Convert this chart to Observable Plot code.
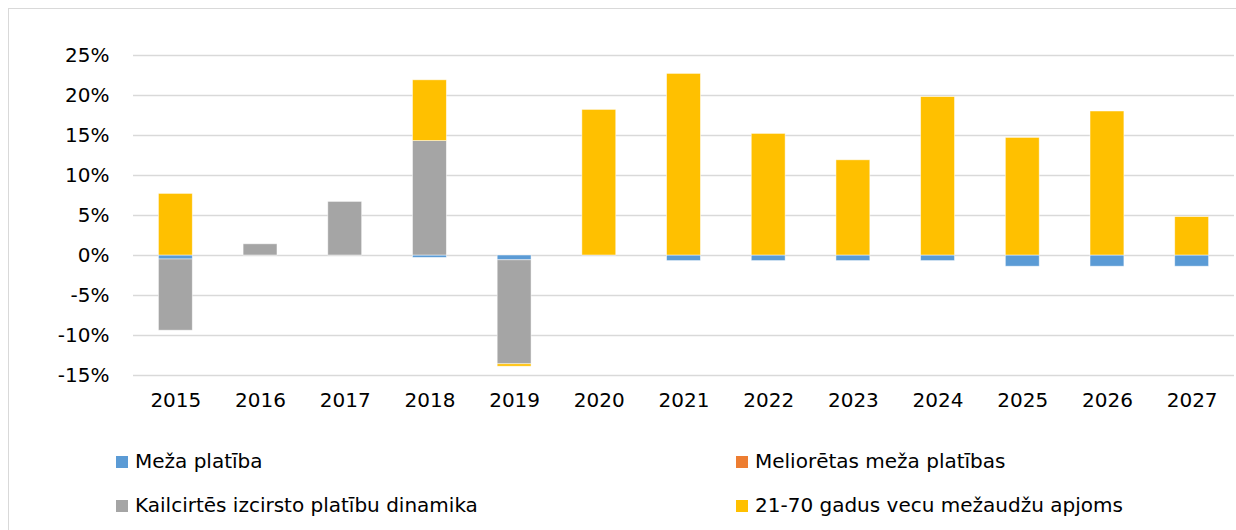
<!DOCTYPE html>
<html>
<head>
<meta charset="utf-8">
<script src="https://cdn.jsdelivr.net/npm/d3@7"></script>
<script src="https://cdn.jsdelivr.net/npm/@observablehq/plot@0.6"></script>
<style>
  html, body { margin: 0; padding: 0; background: #fff; overflow: hidden; }
  #wrap { position: relative; width: 1236px; height: 530px; font-family: "DejaVu Sans", sans-serif; }
  #frame { position: absolute; left: 8px; top: 8px; width: 1300px; height: 600px; border: 1px solid #d9d9d9; box-sizing: border-box; }
  #chart { position: absolute; left: 0; top: 0; }
  .leg { position: absolute; font-size: 20px; color: #000; white-space: nowrap; line-height: 24px; }
  .leg span.sw { display: inline-block; width: 12px; height: 12px; margin-right: 7px; vertical-align: 0px; }
</style>
</head>
<body>
<div id="wrap">
  <div id="frame"></div>
  <div id="chart"></div>
  <div id="legend"></div>
</div>
<script>
const years = ["2015","2016","2017","2018","2019","2020","2021","2022","2023","2024","2025","2026","2027"];
const seriesNames = ["Meža platība", "Meliorētas meža platības", "Kailcirtēs izcirsto platību dinamika", "21-70 gadus vecu mežaudžu apjoms"];
const seriesColors = ["#5B9BD5", "#ED7D31", "#A5A5A5", "#FFC000"];
const mezaPlatiba      = [-0.5, 0, 0, -0.3, -0.6, 0, -0.7, -0.7, -0.7, -0.7, -1.4, -1.4, -1.4];
const melioretas       = [0, 0, 0, 0, 0, 0, 0, 0, 0, 0, 0, 0, 0];
const kailcirtes       = [-8.9, 1.4, 6.7, 14.3, -13.0, 0, 0, 0, 0, 0, 0, 0, 0];
const vecuMezaudzu     = [7.7, 0, 0, 7.6, -0.3, 18.2, 22.7, 15.2, 11.9, 19.8, 14.7, 18.0, 4.8];
const yTicks = [-15, -10, -5, 0, 5, 10, 15, 20, 25];

const seriesValues = [mezaPlatiba, melioretas, kailcirtes, vecuMezaudzu];
const rows = [];
seriesValues.forEach((vals, si) => {
  vals.forEach((v, i) => rows.push({year: years[i], series: seriesNames[si], value: v}));
});

const chart = Plot.plot({
  width: 1236,
  height: 430,
  marginLeft: 133,
  marginRight: 2,
  marginTop: 55,
  marginBottom: 55,
  style: { fontFamily: "DejaVu Sans, sans-serif", fontSize: "20px", color: "#000", background: "transparent" },
  x: { domain: years, paddingInner: 0.6, paddingOuter: 0.3, round: false, label: null },
  y: { domain: [-15, 25], label: null },
  color: { domain: seriesNames, range: seriesColors },
  marks: [
    Plot.gridY(yTicks, { stroke: "#d9d9d9", strokeOpacity: 1, strokeWidth: 1.4 }),
    Plot.barY(rows, Plot.stackY({
      x: "year", y: "value", fill: "series",
      filter: d => d.value !== 0,
      stroke: "#ffffff", strokeWidth: 0.8, strokeOpacity: 0.6
    })),
    Plot.axisY(yTicks, { tickSize: 0, tickPadding: 24, fontSize: 20, tickFormat: d => d + "%" }),
    Plot.axisX({ tickSize: 0, tickPadding: 17, fontSize: 20 })
  ]
});
document.getElementById("chart").appendChild(chart);

// legend (HTML, below the SVG)
const legendPos = [[116, 449], [736, 449], [116, 493], [736, 493]];
const legend = document.getElementById("legend");
seriesNames.forEach((name, i) => {
  const d = document.createElement("div");
  d.className = "leg";
  d.style.left = legendPos[i][0] + "px";
  d.style.top = legendPos[i][1] + "px";
  const sw = document.createElement("span");
  sw.className = "sw";
  sw.style.background = seriesColors[i];
  d.appendChild(sw);
  d.appendChild(document.createTextNode(name));
  legend.appendChild(d);
});
</script>
</body>
</html>
